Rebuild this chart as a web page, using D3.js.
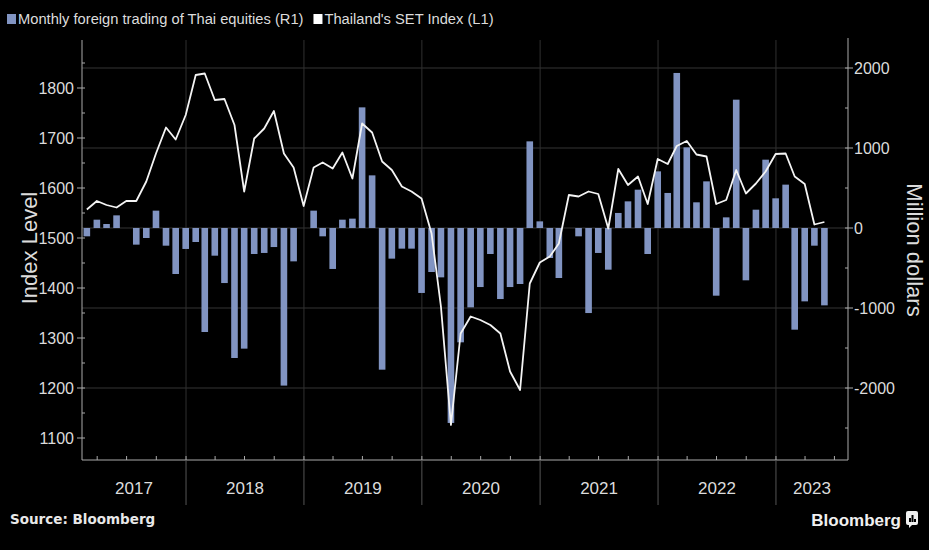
<!DOCTYPE html>
<html><head><meta charset="utf-8">
<script src="https://cdn.jsdelivr.net/npm/d3@7"></script>
<style>body{margin:0;background:#000;overflow:hidden}</style>
</head><body><svg id="c" width="929" height="550"></svg>
<script>
const months = [
 "2017-02","2017-03","2017-04","2017-05","2017-06","2017-07","2017-08","2017-09","2017-10","2017-11","2017-12",
 "2018-01","2018-02","2018-03","2018-04","2018-05","2018-06","2018-07","2018-08","2018-09","2018-10","2018-11","2018-12",
 "2019-01","2019-02","2019-03","2019-04","2019-05","2019-06","2019-07","2019-08","2019-09","2019-10","2019-11","2019-12",
 "2020-01","2020-02","2020-03","2020-04","2020-05","2020-06","2020-07","2020-08","2020-09","2020-10","2020-11","2020-12",
 "2021-01","2021-02","2021-03","2021-04","2021-05","2021-06","2021-07","2021-08","2021-09","2021-10","2021-11","2021-12",
 "2022-01","2022-02","2022-03","2022-04","2022-05","2022-06","2022-07","2022-08","2022-09","2022-10","2022-11","2022-12",
 "2023-01","2023-02","2023-03","2023-04","2023-05"];
const setIndex = [
 1557,1574,1566,1561,1574,1574,1613,1669,1721,1697,1746,
 1826,1829,1776,1778,1726,1593,1699,1719,1754,1669,1641,1564,
 1641,1651,1639,1671,1619,1729,1711,1653,1636,1603,1593,1579,
 1509,1363,1126,1309,1343,1336,1326,1309,1233,1196,1409,1451,
 1463,1489,1586,1583,1593,1588,1519,1638,1606,1623,1568,1658,
 1648,1684,1694,1667,1663,1568,1576,1636,1589,1609,1633,1668,
 1669,1623,1608,1527,1532];
const foreignFlows = [
 -104,104,50,158,0,-208,-125,217,-221,-575,-262,
 -175,-1300,-346,-688,-1625,-1508,-325,-312,-238,-1970,-417,0,
 217,-104,-512,104,117,1508,658,-1771,-383,-258,-258,-812,
 -550,-617,-2437,-1429,-992,-738,-325,-888,-738,-700,1083,83,
 -375,-625,0,-104,-1063,-312,-521,188,333,479,-325,708,
 438,1938,1008,321,583,-846,133,1604,-654,229,854,371,
 542,-1271,-917,-221,-967];
const leftTicks = [1100,1200,1300,1400,1500,1600,1700,1800];
const rightTicks = [-2000,-1000,0,1000,2000];
const years = ["2017","2018","2019","2020","2021","2022","2023"];
const legendLabels = ["Monthly foreign trading of Thai equities (R1)","Thailand's SET Index (L1)"];

const W = 929, H = 550;
const L = 82, R = 848, T = 40, B = 460;
const barColor = "#8194c2";
const textColor = "#dcdcdc";
const font = "'Liberation Sans Narrow','Liberation Sans',Arial,sans-serif";

const svg = d3.select("#c");
svg.append("rect").attr("width", W).attr("height", H).attr("fill", "#000");

const parse = d3.timeParse("%Y-%m");
// month-end dates
const dates = months.map(m => { const d = parse(m); return new Date(d.getFullYear(), d.getMonth() + 1, 0); });

const x = d3.scaleTime().domain([new Date(2017, 1, 13), new Date(2023, 7, 12)]).range([L, R]);
const yL = d3.scaleLinear().domain([1056, 1896]).range([B, T]);
const yR = d3.scaleLinear().domain([-2900, 2350]).range([B, T]);

const yearStarts = years.slice(1).map(y => new Date(+y, 0, 1));

// gridlines
const g = svg.append("g");
g.selectAll("line.h").data(rightTicks).join("line")
  .attr("x1", L).attr("x2", R).attr("y1", d => yR(d)).attr("y2", d => yR(d))
  .attr("stroke", "#353535").attr("stroke-width", 1);
g.selectAll("line.v").data(yearStarts).join("line")
  .attr("x1", d => x(d)).attr("x2", d => x(d)).attr("y1", T).attr("y2", B)
  .attr("stroke", "#303030").attr("stroke-width", 1);

// bars
const bw = 6.6;
svg.append("g").selectAll("rect").data(foreignFlows).join("rect")
  .attr("x", (d, i) => x(dates[i]) - bw / 2)
  .attr("width", bw)
  .attr("y", d => Math.min(yR(d), yR(0)))
  .attr("height", d => Math.abs(yR(d) - yR(0)))
  .attr("fill", barColor);

// line
const line = d3.line().x((d, i) => x(dates[i])).y(d => yL(d));
svg.append("path").datum(setIndex).attr("d", line)
  .attr("fill", "none").attr("stroke", "#f4f4f4").attr("stroke-width", 1.8)
  .attr("stroke-linejoin", "round");

// left axis
const axL = svg.append("g");
axL.append("line").attr("x1", L).attr("x2", L).attr("y1", T).attr("y2", B).attr("stroke", "#aaa");
const leftMinor = d3.range(1100, 1900, 50);
axL.selectAll("line.mn").data(leftMinor).join("line")
  .attr("x1", L).attr("x2", L + 3).attr("y1", d => yL(d)).attr("y2", d => yL(d)).attr("stroke", "#aaa");
axL.selectAll("line.mj").data(leftTicks).join("line")
  .attr("x1", L - 5).attr("x2", L).attr("y1", d => yL(d)).attr("y2", d => yL(d)).attr("stroke", "#aaa");
axL.selectAll("text").data(leftTicks).join("text")
  .attr("x", L - 8).attr("y", d => yL(d)).attr("dy", "0.35em")
  .attr("text-anchor", "end").attr("fill", textColor)
  .style("font-family", font).style("font-size", "16px").text(d => d);

// right axis
const axR = svg.append("g");
axR.append("line").attr("x1", R).attr("x2", R).attr("y1", T - 2).attr("y2", B).attr("stroke", "#aaa");
const rightMinor = d3.range(-2500, 2500, 500);
axR.selectAll("line.mn").data(rightMinor).join("line")
  .attr("x1", R - 3).attr("x2", R).attr("y1", d => yR(d)).attr("y2", d => yR(d)).attr("stroke", "#aaa");
axR.selectAll("line.mj").data(rightTicks).join("line")
  .attr("x1", R).attr("x2", R + 5).attr("y1", d => yR(d)).attr("y2", d => yR(d)).attr("stroke", "#aaa");
axR.selectAll("text").data(rightTicks).join("text")
  .attr("x", R + 6).attr("y", d => yR(d)).attr("dy", "0.35em")
  .attr("text-anchor", "start").attr("fill", textColor)
  .style("font-family", font).style("font-size", "16px").text(d => String(d));

// bottom axis
const axB = svg.append("g");
axB.append("line").attr("x1", L).attr("x2", R).attr("y1", B).attr("y2", B).attr("stroke", "#aaa");
const qTicks = x.ticks(d3.timeMonth.every(3)).filter(d => x(d) > L + 2 && x(d) < R - 2);
axB.selectAll("line.q").data(qTicks).join("line")
  .attr("x1", d => x(d)).attr("x2", d => x(d)).attr("y1", B - 4).attr("y2", B).attr("stroke", "#aaa");
axB.selectAll("line.y").data(yearStarts).join("line")
  .attr("x1", d => x(d)).attr("x2", d => x(d)).attr("y1", B).attr("y2", B + 45).attr("stroke", "#555");
const bounds = [L, ...yearStarts.map(d => x(d)), R];
axB.selectAll("text").data(years).join("text")
  .attr("x", (d, i) => (bounds[i] + bounds[i + 1]) / 2).attr("y", B + 34)
  .attr("text-anchor", "middle").attr("fill", textColor)
  .style("font-family", font).style("font-size", "17px").text(d => d);

// axis titles
svg.append("text").attr("transform", `translate(37,248) rotate(-90)`)
  .attr("text-anchor", "middle").attr("fill", textColor)
  .style("font-family", font).style("font-size", "22px").text("Index Level");
svg.append("text").attr("transform", `translate(907,250) rotate(90)`)
  .attr("text-anchor", "middle").attr("fill", textColor)
  .style("font-family", font).style("font-size", "22px").text("Million dollars");

// legend
const lg = svg.append("g");
lg.append("rect").attr("x", 7).attr("y", 14).attr("width", 9).attr("height", 10).attr("fill", barColor);
const t1 = lg.append("text").attr("x", 18).attr("y", 24).attr("fill", textColor)
  .style("font-family", font).style("font-size", "14.7px").text(legendLabels[0]);
const w1 = t1.node().getComputedTextLength();
lg.append("rect").attr("x", 18 + w1 + 10).attr("y", 14).attr("width", 9).attr("height", 10).attr("fill", "#fff");
lg.append("text").attr("x", 18 + w1 + 21).attr("y", 24).attr("fill", textColor)
  .style("font-family", font).style("font-size", "14.7px").text(legendLabels[1]);

// footer
svg.append("text").attr("x", 10).attr("y", 524).attr("fill", "#e8e8e8")
  .style("font-family", "'DejaVu Sans',sans-serif").style("font-weight", "bold").style("font-size", "13.5px")
  .text("Source: Bloomberg");
svg.append("text").attr("x", 901).attr("y", 526).attr("text-anchor", "end").attr("fill", "#f0f0f0")
  .style("font-family", font).style("font-weight", "bold").style("font-size", "17px").text("Bloomberg");
const ic = svg.append("g").attr("transform", "translate(906,511)");
ic.append("rect").attr("width", 12).attr("height", 14).attr("rx", 2).attr("fill", "#f0f0f0");
ic.append("path").attr("d", "M3,13 L3,17 L7,13 Z").attr("fill", "#f0f0f0");
[[3,7,2,4],[5.5,4,2,7],[8,8,2,3]].forEach(b => ic.append("rect").attr("x", b[0]).attr("y", b[1]).attr("width", b[2]).attr("height", b[3]).attr("fill", "#000"));
</script>
</body></html>
